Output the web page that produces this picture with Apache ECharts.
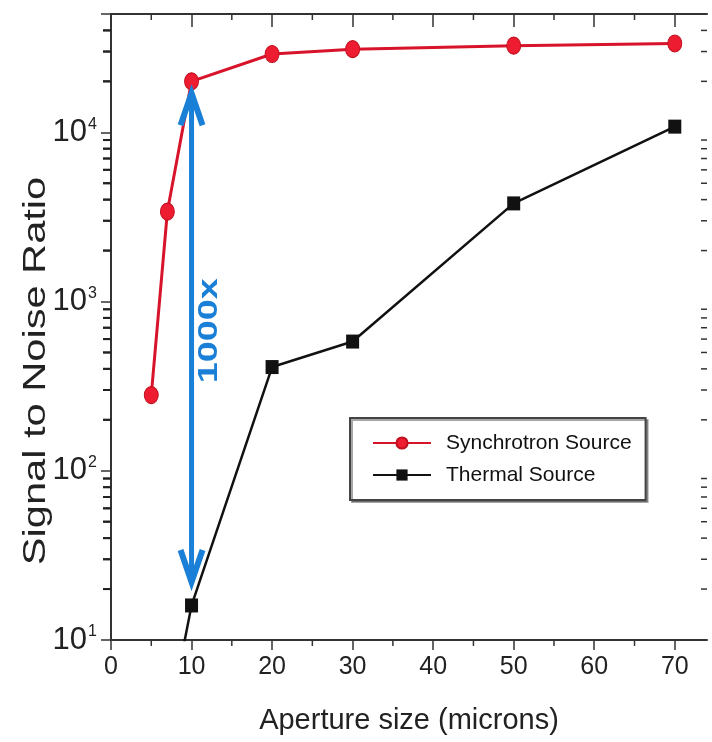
<!DOCTYPE html>
<html>
<head>
<meta charset="utf-8">
<script src="https://cdn.jsdelivr.net/npm/echarts@6/dist/echarts.min.js"></script>
<style>
  html, body { margin: 0; background: #fff; }
  #chart { width: 712px; height: 742px; }
</style>
</head>
<body>
<div id="chart"></div>
<script>
// values
const apertureSync = [5, 7, 10, 20, 30, 50, 70];
const snrSync = [280, 3400, 20000, 29000, 31000, 32500, 33500];
const apertureThermal = [7, 10, 20, 30, 50, 70];
const snrThermal = [3, 16, 410, 580, 3800, 10800];

// axis decoration
const xMin = 0, xMax = 74;
const yMin = 10, yMax = 50000;
const xMajorTicks = [0, 10, 20, 30, 40, 50, 60, 70];
const xMinorTicks = [5, 15, 25, 35, 45, 55, 65];
const yMinorTicks = [20, 30, 40, 50, 60, 70, 80, 90,
  200, 300, 400, 500, 600, 700, 800, 900,
  2000, 3000, 4000, 5000, 6000, 7000, 8000, 9000,
  20000, 30000, 40000];

// blue double arrow: x, top value, bottom value
const gainArrow = [10, 17000, 22];
const gainLabel = '1000x';

const SANS = '"Liberation Sans", Arial, sans-serif';
const AXIS = '#333';

const chart = echarts.init(document.getElementById('chart'));

const axisLine = { show: true, lineStyle: { color: AXIS, width: 2 } };
const tickStyle = { color: AXIS, width: 1.5 };

// small filled rect used as a tick stub
function stub(x, y, w, h) {
  return { type: 'rect', shape: { x: x, y: y, width: w, height: h }, style: { fill: AXIS } };
}

chart.setOption({
  animation: false,
  backgroundColor: '#fff',
  grid: { left: 111, right: 5, top: 14, bottom: 102 },
  legend: {
    data: ['Synchrotron Source', 'Thermal Source'],
    orient: 'vertical',
    left: 350,
    top: 418,
    itemWidth: 58,
    itemHeight: 14,
    itemGap: 6,
    padding: [12, 14, 12, 22],
    borderColor: '#444',
    borderWidth: 2,
    backgroundColor: '#fff',
    shadowColor: 'rgba(0,0,0,0.35)',
    shadowOffsetX: 2,
    shadowOffsetY: 2,
    textStyle: { fontSize: 21, fontFamily: SANS, color: '#111', lineHeight: 26, padding: [0, 0, 0, 10] }
  },
  xAxis: [{
    type: 'value',
    min: xMin,
    max: xMax,
    position: 'bottom',
    axisLine: axisLine,
    axisTick: { customValues: xMajorTicks, length: 10, lineStyle: tickStyle },
    axisLabel: {
      customValues: xMajorTicks,
      fontSize: 25, fontFamily: SANS, color: '#222', margin: 15
    },
    splitLine: { show: false },
    name: 'Aperture size (microns)',
    nameLocation: 'middle',
    nameGap: 66,
    nameTextStyle: { fontSize: 29, fontFamily: SANS, color: '#222' }
  }, {
    type: 'value',
    min: xMin,
    max: xMax,
    position: 'top',
    axisLine: axisLine,
    axisTick: { customValues: xMajorTicks, inside: true, length: 13, lineStyle: tickStyle },
    axisLabel: { show: false },
    splitLine: { show: false }
  }],
  yAxis: [{
    type: 'log',
    logBase: 10,
    min: yMin,
    max: yMax,
    position: 'left',
    axisLine: axisLine,
    axisTick: { length: 9, lineStyle: tickStyle },
    axisLabel: {
      showMaxLabel: false,
      margin: 14,
      formatter: function (v) {
        const e = Math.log10(v);
        if (Math.abs(e - Math.round(e)) > 1e-6) return '';
        return '{b|10}{s|' + Math.round(e) + '}';
      },
      rich: {
        b: { fontSize: 31, fontFamily: SANS, color: '#222', lineHeight: 32 },
        s: { fontSize: 16, fontFamily: SANS, color: '#222', verticalAlign: 'top', lineHeight: 16, padding: [0, 0, 0, 1] }
      }
    },
    splitLine: { show: false }
  }, {
    type: 'log',
    logBase: 10,
    min: yMin,
    max: yMax,
    position: 'right',
    axisLine: axisLine,
    axisTick: { inside: true, length: 10, lineStyle: tickStyle },
    axisLabel: { show: false },
    splitLine: { show: false }
  }],
  series: [{
    name: 'Synchrotron Source',
    type: 'line',
    data: apertureSync.map((x, i) => [x, snrSync[i]]),
    symbol: 'circle',
    symbolSize: [14, 17],
    lineStyle: { color: '#d8142a', width: 3 },
    itemStyle: { color: '#ee1c30', borderColor: '#c01020', borderWidth: 1 },
    z: 4
  }, {
    name: 'Thermal Source',
    type: 'line',
    data: apertureThermal.map((x, i) => [x, snrThermal[i]]),
    symbol: 'rect',
    symbolSize: [13, 14],
    clip: true,
    lineStyle: { color: '#111', width: 2.5 },
    itemStyle: { color: '#111' },
    z: 3
  }, {
    // minor ticks of both log axes (left outward, right inward)
    type: 'custom',
    clip: false,
    z: 10,
    data: yMinorTicks.map(v => [xMin, v]),
    renderItem: function (params, api) {
      const v = api.value(1);
      const pl = api.coord([xMin, v]);
      const pr = api.coord([xMax, v]);
      return {
        type: 'group',
        children: [
          stub(pl[0] - 8, pl[1] - 1, 9, 2),
          stub(pr[0] - 6, pr[1] - 0.75, 6, 1.5)
        ]
      };
    }
  }, {
    // minor ticks of both x axes (bottom outward, top inward)
    type: 'custom',
    clip: false,
    z: 10,
    data: xMinorTicks.map(v => [v, yMin]),
    renderItem: function (params, api) {
      const v = api.value(0);
      const pb = api.coord([v, yMin]);
      const pt = api.coord([v, yMax]);
      return {
        type: 'group',
        children: [
          stub(pb[0] - 0.75, pb[1], 1.5, 6),
          stub(pt[0] - 0.75, pt[1], 1.5, 6)
        ]
      };
    }
  }, {
    // blue "1000x" double arrow
    type: 'custom',
    z: 5,
    data: [gainArrow],
    renderItem: function (params, api) {
      const top = api.coord([api.value(0), api.value(1)]);
      const bot = api.coord([api.value(0), api.value(2)]);
      const x = top[0];
      const c = '#1a7fd6';
      const hw = 11, hh = 32;
      return {
        type: 'group',
        children: [
          { type: 'line', shape: { x1: x, y1: top[1] + 3, x2: x, y2: bot[1] - 3 }, style: { stroke: c, lineWidth: 5 } },
          { type: 'polyline', shape: { points: [[x - hw, top[1] + hh], [x, top[1]], [x + hw, top[1] + hh]] },
            style: { stroke: c, lineWidth: 6, fill: null, lineJoin: 'miter' } },
          { type: 'polyline', shape: { points: [[x - hw, bot[1] - hh], [x, bot[1]], [x + hw, bot[1] - hh]] },
            style: { stroke: c, lineWidth: 6, fill: null, lineJoin: 'miter' } },
          { type: 'text', x: x + 18, y: (top[1] + bot[1]) / 2 - 7, rotation: Math.PI / 2, scaleX: 1.4,
            style: { text: gainLabel, fill: c, font: 'bold 27px "Liberation Sans", Arial, sans-serif', align: 'center', verticalAlign: 'middle' } }
        ]
      };
    }
  }]
});

// y title plus left-side minor tick stubs, placed through the axis scale
const leftX = chart.convertToPixel({ xAxisIndex: 0 }, xMin);
const graphics = [{
  type: 'text',
  x: 36,
  y: 371,
  rotation: Math.PI / 2,
  scaleX: 1.3,
  style: {
    text: 'Signal to Noise Ratio',
    font: '32px "Liberation Sans", Arial, sans-serif',
    fill: '#222',
    align: 'center',
    verticalAlign: 'middle'
  }
}];
yMinorTicks.forEach(v => {
  const y = chart.convertToPixel({ yAxisIndex: 0 }, v);
  graphics.push({
    type: 'line',
    z: 100,
    shape: { x1: leftX - 8, y1: y, x2: leftX, y2: y },
    style: { stroke: '#222', lineWidth: 2 }
  });
});
chart.setOption({ graphic: graphics });
</script>
</body>
</html>
